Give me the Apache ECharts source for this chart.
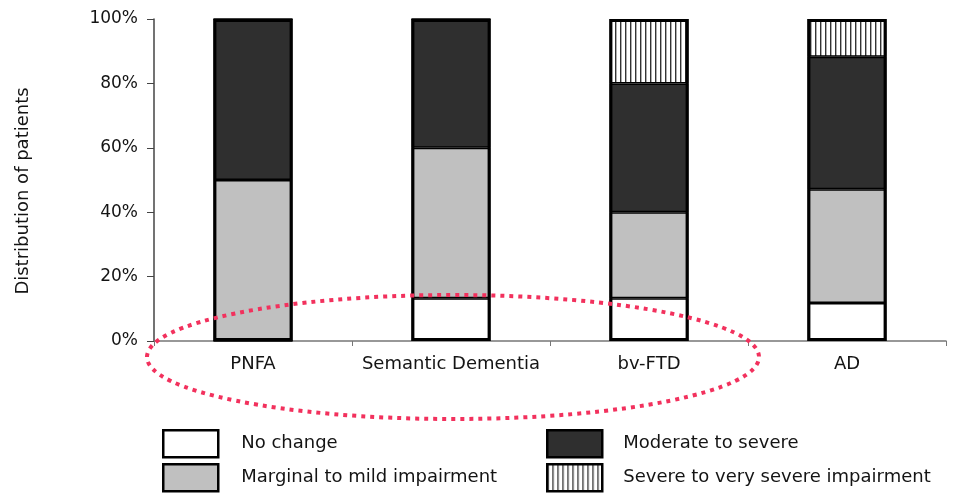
<!DOCTYPE html>
<html>
<head>
<meta charset="utf-8">
<script src="https://cdn.jsdelivr.net/npm/echarts@6/dist/echarts.min.js"></script>
<style>html,body{margin:0;padding:0;background:#fff}#c{width:960px;height:493px}</style>
</head>
<body>
<div id="c"></div>
<script>
const categories = ['PNFA', 'Semantic Dementia', 'bv-FTD', 'AD'];
const noChange = [0, 13.3, 13.3, 11.8];
const marginal = [50, 46.7, 26.7, 35.3];
const moderate = [50, 40, 40, 41.2];
const severe = [0, 0, 20, 11.7];
const yTicks = ['0%', '20%', '40%', '60%', '80%', '100%'];

const totals = categories.map(function (c, i) {
  return noChange[i] + marginal[i] + moderate[i] + severe[i];
});

const pc = document.createElement('canvas');
pc.width = 5; pc.height = 5;
const pctx = pc.getContext('2d');
pctx.fillStyle = '#ffffff';
pctx.fillRect(0, 0, 5, 5);
pctx.fillStyle = '#333333';
pctx.fillRect(0, 0, 1.4, 5);

const FONT = 'DejaVu Sans, sans-serif';
const TXT = '#141414';

function mk(name, data, color) {
  return {
    name: name, type: 'bar', stack: 'all', data: data, barWidth: '40%',
    itemStyle: { color: color, borderColor: '#000', borderWidth: 1.5 },
    emphasis: { disabled: true }
  };
}

function lg(name, left, top, padLeft) {
  return {
    data: [name], orient: 'horizontal', left: left, top: top, padding: 0,
    itemWidth: 55, itemHeight: 27, icon: 'rect', selectedMode: false,
    itemStyle: { borderColor: '#000', borderWidth: 2.5 },
    textStyle: { fontFamily: FONT, fontSize: 18, color: TXT, padding: [0, 0, 0, padLeft] }
  };
}

const chart = echarts.init(document.getElementById('c'));
chart.setOption({
  animation: false,
  backgroundColor: '#fff',
  grid: { left: 154, right: 14, top: 19, bottom: 152 },
  xAxis: {
    type: 'category', data: categories,
    axisLine: { lineStyle: { color: '#777', width: 1.5 } },
    axisTick: { show: true, interval: 0, length: 5, lineStyle: { color: '#777' } },
    axisLabel: { interval: 0, hideOverlap: false, fontFamily: FONT, fontSize: 18, color: TXT, margin: 14 }
  },
  yAxis: {
    type: 'value', min: 0, max: 100, interval: 20,
    name: 'Distribution of patients', nameLocation: 'middle', nameGap: 122,
    nameTextStyle: { fontFamily: FONT, fontSize: 18, color: TXT, padding: [0, 22, 0, 0] },
    axisLine: { show: true, lineStyle: { color: '#444', width: 1.5 } },
    axisTick: { show: true, length: 7, lineStyle: { color: '#444' } },
    splitLine: { show: false },
    axisLabel: {
      fontFamily: FONT, fontSize: 17, color: TXT, margin: 16,
      formatter: function (v) { return yTicks[Math.round(v / 20)]; }
    }
  },
  legend: [
    lg('No change', 162, 429, 18),
    lg('Marginal to mild impairment', 162, 463, 18),
    lg('Moderate to severe', 546, 429, 16),
    lg('Severe to very severe impairment', 546, 463, 16)
  ],
  series: [
    mk('No change', noChange, '#ffffff'),
    mk('Marginal to mild impairment', marginal, '#c0c0c0'),
    mk('Moderate to severe', moderate, '#2f2f2f'),
    mk('Severe to very severe impairment', severe, { image: pc, repeat: 'repeat' }),
    {
      name: 'outline', type: 'bar', data: totals, barWidth: '40%', barGap: '-100%', z: 3,
      itemStyle: { color: 'rgba(0,0,0,0)', borderColor: '#000', borderWidth: 3 },
      emphasis: { disabled: true }, silent: true
    }
  ],
  graphic: [
    {
      type: 'ellipse', z: 100,
      shape: { cx: 453, cy: 357, rx: 306, ry: 62 },
      style: { fill: 'none', stroke: '#f2315d', lineWidth: 4, lineDash: [4, 5] }
    }
  ]
});
</script>
</body>
</html>
